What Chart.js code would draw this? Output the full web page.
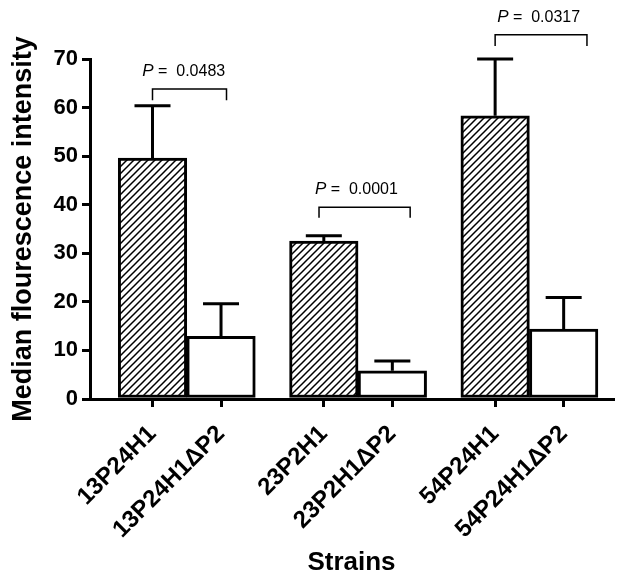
<!DOCTYPE html>
<html>
<head>
<meta charset="utf-8">
<script src="https://cdn.jsdelivr.net/npm/chart.js@4.4.0/dist/chart.umd.min.js"></script>
<style>
  body { margin: 0; background: #fff; }
  #wrap { width: 624px; height: 581px; }
</style>
</head>
<body>
<div id="wrap"><canvas id="myChart" width="624" height="581"></canvas></div>
<script>
// data
const strains = ['13P24H1', '13P24H1\u0394P2', '23P2H1', '23P2H1\u0394P2', '54P24H1', '54P24H1\u0394P2']
const barPos = [0, 1, 2.5, 3.5, 5, 6]          // x slot of each bar (pairs side by side)
const medianValues = [49.6, 12.9, 32.5, 5.8, 58.3, 14.4]
const errorTop = [60.4, 19.6, 33.6, 7.8, 70.0, 20.9]
const hatched = [true, false, true, false, true, false]
const yTicks = [0, 10, 20, 30, 40, 50, 60, 70]

// p-value brackets
const pValues = ['0.0483', '0.0001', '0.0317']
const bracketFrom = [0, 2.43, 5.0]
const bracketTo = [1.08, 3.76, 6.34]
const bracketY = [63.8, 39.5, 75.0]
const bracketLeg = [61.5, 37.3, 72.7]
const pTextX = [-0.15, 2.37, 5.03]

const fontFam = '"Liberation Sans", Arial, Helvetica, sans-serif'

// diagonal hatch
function makeHatch(){
    const s = 7
    const c = document.createElement('canvas')
    c.width = s
    c.height = s
    const g = c.getContext('2d')
    g.fillStyle = '#fff'
    g.fillRect(0, 0, s, s)
    g.strokeStyle = '#000'
    g.lineWidth = 1.5
    g.beginPath()
    g.moveTo(-1, s + 1); g.lineTo(s + 1, -1)
    g.moveTo(-1, 1); g.lineTo(1, -1)
    g.moveTo(s - 1, s + 1); g.lineTo(s + 1, s - 1)
    g.stroke()
    return g.createPattern(c, 'repeat')
}
const hatch = makeHatch()

// error bars + brackets drawn with the chart scales
const extras = {
    id: 'extras',
    afterDatasetsDraw(chart){
        const ctx = chart.ctx
        const xs = chart.scales.x
        const ys = chart.scales.y
        ctx.save()
        ctx.strokeStyle = '#000'
        ctx.lineWidth = 3
        ctx.lineCap = 'butt'
        for (let i = 0; i < barPos.length; i++){
            const x = xs.getPixelForValue(barPos[i])
            const y1 = ys.getPixelForValue(medianValues[i])
            const y2 = ys.getPixelForValue(errorTop[i])
            ctx.beginPath()
            ctx.moveTo(x, y1)
            ctx.lineTo(x, y2)
            ctx.moveTo(x - 18, y2)
            ctx.lineTo(x + 18, y2)
            ctx.stroke()
        }
        ctx.lineWidth = 1.5
        ctx.fillStyle = '#000'
        for (let i = 0; i < pValues.length; i++){
            const xa = xs.getPixelForValue(bracketFrom[i])
            const xb = xs.getPixelForValue(bracketTo[i])
            const yb = ys.getPixelForValue(bracketY[i])
            const yl = ys.getPixelForValue(bracketLeg[i])
            ctx.beginPath()
            ctx.moveTo(xa, yl)
            ctx.lineTo(xa, yb)
            ctx.lineTo(xb, yb)
            ctx.lineTo(xb, yl)
            ctx.stroke()
            // text
            let tx = xs.getPixelForValue(pTextX[i])
            const ty = yb - 13
            ctx.textBaseline = 'alphabetic'
            ctx.textAlign = 'left'
            ctx.font = 'italic 17px ' + fontFam
            ctx.fillText('P', tx, ty)
            tx += ctx.measureText('P').width
            ctx.font = '16px ' + fontFam
            ctx.fillText(' =  ' + pValues[i], tx, ty)
        }
        ctx.restore()
    }
}

const data = {
    datasets: [{
        label: 'Median flourescence intensity',
        data: barPos.map((p, i) => ({x: p, y: medianValues[i]})),
        backgroundColor: hatched.map(h => h ? hatch : '#fff'),
        borderColor: '#000',
        borderWidth: 3,
        borderSkipped: false,
        barPercentage: 1,
        categoryPercentage: 1
    }]
}

const config = {
    type: 'bar',
    data,
    plugins: [extras],
    options: {
        responsive: false,
        animation: false,
        layout: { padding: { left: 0, top: 59, right: 11, bottom: 0 } },
        plugins: { legend: { display: false }, tooltip: { enabled: false } },
        scales: {
            x: {
                type: 'linear',
                offset: false,
                min: -0.912,
                max: 6.72,
                afterBuildTicks: axis => { axis.ticks = barPos.map(v => ({value: v})) },
                afterFit: axis => { axis.height = 182 },
                ticks: {
                    autoSkip: false,
                    minRotation: 45,
                    maxRotation: 45,
                    color: '#000',
                    padding: 13,
                    font: { family: fontFam, size: 24, weight: 'bold' },
                    callback: v => strains[barPos.indexOf(v)]
                },
                grid: { offset: false, drawOnChartArea: false, color: '#000', lineWidth: 3, tickLength: 8 },
                border: { color: '#000', width: 3 },
                title: {
                    display: true,
                    text: 'Strains',
                    color: '#000',
                    padding: { top: 0, bottom: 3 },
                    font: { family: fontFam, size: 26, weight: 'bold' }
                }
            },
            y: {
                min: 0,
                max: 70,
                afterBuildTicks: axis => { axis.ticks = yTicks.map(v => ({value: v})) },
                afterFit: axis => { axis.width = 90 },
                ticks: {
                    color: '#000',
                    padding: 4,
                    font: { family: fontFam, size: 22, weight: 'bold' }
                },
                grid: { drawOnChartArea: false, color: '#000', lineWidth: 3, tickLength: 8 },
                border: { color: '#000', width: 3 },
                title: {
                    display: true,
                    text: 'Median flourescence intensity',
                    color: '#000',
                    padding: { top: 7, bottom: 0 },
                    font: { family: fontFam, size: 27, weight: 'bold' }
                }
            }
        }
    }
}

let myChart = new Chart(document.getElementById('myChart'), config)
</script>
</body>
</html>
